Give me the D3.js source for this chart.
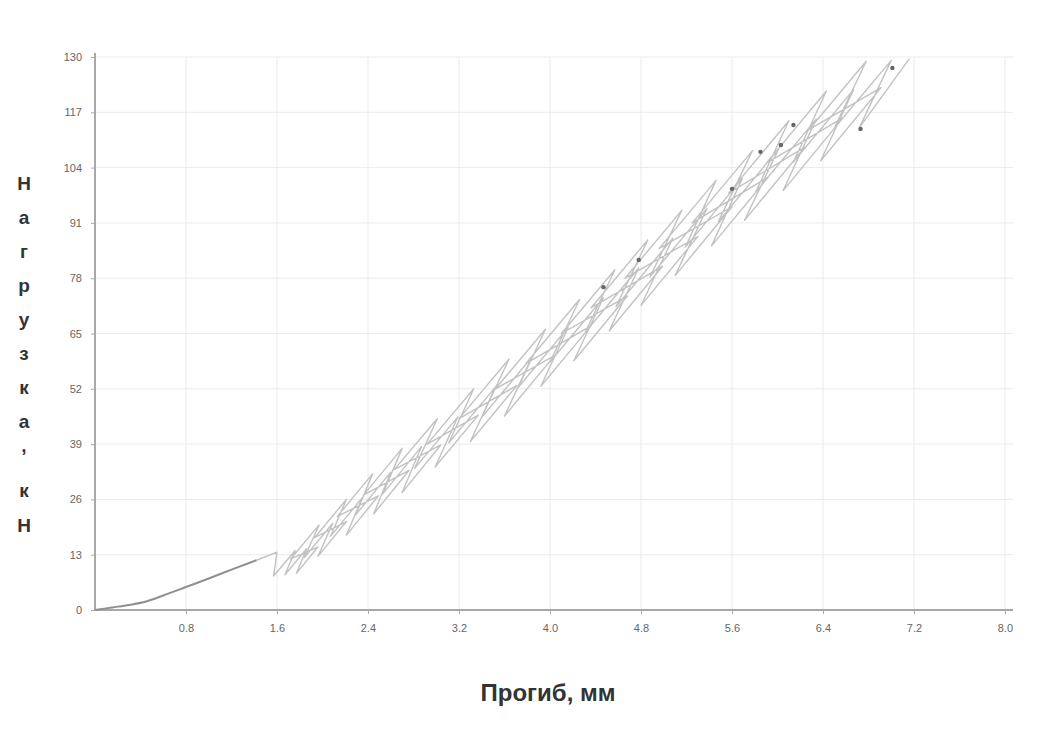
<!DOCTYPE html>
<html>
<head>
<meta charset="utf-8">
<script src="https://cdn.jsdelivr.net/npm/d3@7"></script>
<style>
  html, body { margin: 0; padding: 0; background: #ffffff; }
  svg { display: block; }
</style>
</head>
<body>
<svg id="chart" width="1044" height="731"></svg>
<script>
// ---- data ----
const xTickValues = [0.8, 1.6, 2.4, 3.2, 4.0, 4.8, 5.6, 6.4, 7.2, 8.0];
const yTickValues = [0, 13, 26, 39, 52, 65, 78, 91, 104, 117, 130];

// initial loading branch (displacement, mm / load, kN)
const initialDisp = [0, 0.15, 0.30, 0.45, 0.60, 0.80, 1.00, 1.20, 1.42];
const initialLoad = [0, 0.6, 1.2, 2.0, 3.4, 5.4, 7.4, 9.5, 11.7];

// cyclic loading branch
const cycleDisp = [1.42, 1.60,
  1.57, 1.76, 1.67, 1.86, 1.77, 1.96,
  1.72, 1.97, 1.84, 2.09, 1.96, 2.21,
  1.93, 2.21, 2.07, 2.35, 2.21, 2.49,
  2.13, 2.44, 2.29, 2.60, 2.45, 2.76,
  2.36, 2.70, 2.53, 2.87, 2.70, 3.04,
  2.63, 3.01, 2.81, 3.19, 2.99, 3.37,
  2.92, 3.33, 3.11, 3.52, 3.30, 3.71,
  3.20, 3.64, 3.40, 3.84, 3.60, 4.04,
  3.52, 3.96, 3.72, 4.16, 3.92, 4.36,
  3.79, 4.26, 4.00, 4.47, 4.21, 4.68,
  4.10, 4.57, 4.31, 4.78, 4.52, 4.99,
  4.36, 4.86, 4.58, 5.08, 4.80, 5.30,
  4.66, 5.16, 4.88, 5.38, 5.10, 5.60,
  4.96, 5.46, 5.19, 5.69, 5.42, 5.92,
  5.25, 5.78, 5.48, 6.01, 5.71, 6.24,
  5.57, 6.10, 5.81, 6.34, 6.05, 6.58,
  5.90, 6.43, 6.14, 6.67, 6.38, 6.91,
  6.28, 6.78, 6.50, 7.00, 6.72, 7.16];
const cycleLoad = [11.7, 13.6,
  8.0, 14.0, 8.3, 14.4, 8.6, 14.8,
  12.0, 20.0, 12.3, 20.4, 12.6, 20.8,
  17.0, 26.0, 17.3, 26.4, 17.6, 26.8,
  22.0, 32.0, 22.3, 32.4, 22.6, 32.8,
  27.0, 38.0, 27.3, 38.4, 27.6, 38.8,
  33.0, 45.0, 33.3, 45.4, 33.6, 45.8,
  39.0, 52.0, 39.3, 52.4, 39.6, 52.8,
  45.0, 59.0, 45.3, 59.4, 45.6, 59.8,
  52.0, 66.0, 52.3, 66.4, 52.6, 66.8,
  58.0, 73.0, 58.3, 73.4, 58.6, 73.8,
  65.0, 80.0, 65.3, 80.4, 65.6, 80.8,
  71.0, 87.0, 71.3, 87.4, 71.6, 87.8,
  78.0, 94.0, 78.3, 94.4, 78.6, 94.8,
  85.0, 101.0, 85.3, 101.4, 85.6, 101.8,
  91.0, 108.0, 91.3, 108.4, 91.6, 108.8,
  98.0, 115.0, 98.3, 115.4, 98.6, 115.8,
  105.0, 122.0, 105.3, 122.4, 105.6, 122.8,
  113.0, 129.0, 113.3, 129.2, 113.4, 129.6];

// darker highlighted points
const markDisp = [4.47, 4.78, 5.60, 5.85, 6.03, 6.14, 6.73, 7.01];
const markLoad = [75.9, 82.3, 99.0, 107.7, 109.3, 114.0, 113.1, 127.4];

const xTitle = "Прогиб, мм";
const yTitle = "Нагрузка, кН";

// ---- drawing ----
const svg = d3.select("#chart");
const x = d3.scaleLinear().domain([0, 8]).range([95, 1005]);
const y = d3.scaleLinear().domain([0, 130]).range([610, 57]);

// grid
const grid = svg.append("g");
grid.selectAll("line.v").data(xTickValues).enter().append("line")
  .attr("x1", d => x(d)).attr("x2", d => x(d))
  .attr("y1", y(130)).attr("y2", y(0))
  .attr("stroke", "#ebebeb").attr("stroke-width", 1);
grid.selectAll("line.h").data(yTickValues.slice(1)).enter().append("line")
  .attr("x1", x(0)).attr("x2", 1013)
  .attr("y1", d => y(d)).attr("y2", d => y(d))
  .attr("stroke", "#ebebeb").attr("stroke-width", 1);

// axes
const xAxis = d3.axisBottom(x).tickValues(xTickValues).tickFormat(d3.format(".1f"))
  .tickSize(4).tickPadding(10);
const yAxis = d3.axisLeft(y).tickValues(yTickValues).tickFormat(d3.format("d"))
  .tickSize(4).tickPadding(9);

const gx = svg.append("g").attr("transform", `translate(0,${y(0)})`).call(xAxis);
const gy = svg.append("g").attr("transform", `translate(${x(0)},0)`).call(yAxis);
[gx, gy].forEach(g => {
  g.select(".domain").remove();
  g.selectAll(".tick line").attr("stroke", "#aaaaaa");
  g.selectAll(".tick text").attr("fill", "#666666")
    .style("font-family", "Arial, 'Liberation Sans', sans-serif").style("font-size", "11px");
});
svg.append("line").attr("x1", x(0)).attr("x2", 1013).attr("y1", y(0)).attr("y2", y(0))
  .attr("stroke", "#a8a8a8").attr("stroke-width", 2);
svg.append("line").attr("x1", x(0)).attr("x2", x(0)).attr("y1", y(130) - 4).attr("y2", y(0) + 1)
  .attr("stroke", "#a8a8a8").attr("stroke-width", 2);

// lines
const line = d3.line().x(d => x(d[0])).y(d => y(d[1]));
const cyc = cycleDisp.map((d, i) => [d, cycleLoad[i]]);
svg.append("path").datum(cyc).attr("d", line)
  .attr("fill", "none").attr("stroke", "#c2c2c2").attr("stroke-width", 1.4)
  .attr("stroke-linejoin", "round");
const init = initialDisp.map((d, i) => [d, initialLoad[i]]);
svg.append("path").datum(init).attr("d", d3.line().curve(d3.curveMonotoneX).x(d => x(d[0])).y(d => y(d[1])))
  .attr("fill", "none").attr("stroke", "#8f8f8f").attr("stroke-width", 2);

svg.append("g").selectAll("circle").data(markDisp.map((d, i) => [d, markLoad[i]])).enter()
  .append("circle").attr("cx", d => x(d[0])).attr("cy", d => y(d[1])).attr("r", 2.2)
  .attr("fill", "#666666");

// titles
svg.append("text").attr("x", 548).attr("y", 701).attr("text-anchor", "middle")
  .attr("fill", "#333333").style("font-family", "Arial, 'Liberation Sans', sans-serif")
  .style("font-size", "24px").style("font-weight", "bold").text(xTitle);

const yChars = Array.from(yTitle);
const yPos = [190, 224, 258, 292, 326, 360, 394, 428, 452, 470, 497, 532];
const yt = svg.append("text").attr("fill", "#333333")
  .style("font-family", "Arial, 'Liberation Sans', sans-serif")
  .style("font-size", "19px").style("font-weight", "bold").attr("text-anchor", "middle");
yChars.forEach((c, i) => {
  yt.append("tspan").attr("x", 24).attr("y", yPos[i]).text(c);
});
</script>
</body>
</html>
